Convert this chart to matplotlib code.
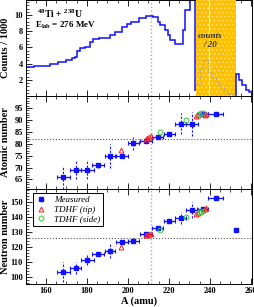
import matplotlib
matplotlib.use('Agg')
import matplotlib.pyplot as plt
from matplotlib.ticker import MultipleLocator
import numpy as np

plt.rcParams['font.family'] = ['Liberation Serif', 'DejaVu Serif']
plt.rcParams['font.weight'] = 'bold'
plt.rcParams['mathtext.fontset'] = 'custom'
plt.rcParams['mathtext.rm'] = 'Liberation Serif:bold'
plt.rcParams['mathtext.it'] = 'Liberation Serif:italic:bold'
plt.rcParams['mathtext.bf'] = 'Liberation Serif:bold'
plt.rcParams['hatch.linewidth'] = 0.6

# mass histogram (counts / 1000)
hist_edges = [150, 154, 162, 166, 170, 172.5, 174, 175, 176.6, 179, 181.5, 183, 186,
              191, 193.7, 197, 199.5, 201.5, 205.5, 209, 212, 214.6, 215.6, 218,
              219.5, 220.6, 222.7, 226.8, 227.8, 230.2, 232.7, 233.5]
hist_counts = [3.6, 3.7, 3.9, 4.25, 4.45, 4.65, 4.87, 5.5, 5.9, 6.1, 6.7, 7.0,
               7.2, 7.5, 7.9, 8.5, 8.9, 9.2, 9.6, 9.9, 9.7, 9.2, 8.8, 8.2, 7.55,
               6.9, 6.4, 8.2, 10.6, 12.5, 0.8]
tail_edges = [252.7, 254.4, 255.6, 257.5, 259, 263]
tail_counts = [2.74, 2.0, 1.4, 0.77, 0.5]
# scaled (counts / 20) part inside the shaded band
sc_edges = [233, 235, 236.5, 239, 241, 243, 245, 247, 249, 251, 252.7]
sc_counts = [1.5, 3.5, 4.4, 3.0, 2.2, 1.7, 1.0, 0.6, 0.3, 0.1]
band = (233.0, 252.7)

# measured fragments
A_meas = [168.5, 174.5, 180.2, 185.5, 191.2, 197.0, 202.6, 208.8, 214.5, 220.2,
          225.7, 231.2, 236.4, 242.7]
dA_meas = [3.0, 2.8, 3.0, 3.0, 2.5, 2.8, 2.8, 3.0, 2.8, 2.8, 2.8, 2.8, 2.8, 3.5]
Z_meas = [66, 69, 69, 71, 75, 75, 80.2, 81.2, 83, 84.2, 88.4, 88.4, 92.5, 92.5]
dZ_meas = [4.8, 3.8, 3.6, 1.0, 5.0, 0.8, 2.8, 0.8, 0.8, 0.8, 4.5, 5.0, 0.8, 0.8]
N_meas = [103, 105.7, 111.5, 115.4, 117.4, 123.1, 124.2, 128.5, 132.4, 137.4,
          139.4, 145, 145.6, 152.9]
dN_meas = [6.5, 4.0, 4.0, 1.0, 5.0, 1.0, 1.5, 1.0, 1.0, 1.0, 4.0, 5.5, 1.0, 1.0]
A_extra = [252.7]
N_extra = [131.7]

# TDHF
A_tip = [196.4, 208.8, 209.5, 210.3, 211.0, 233.2, 234.3, 237.5, 238.3]
Z_tip = [77.4, 82.0, 82.4, 82.8, 83.2, 91.5, 92.2, 92.0, 92.4]
N_tip = [119.8, 128.0, 128.3, 128.6, 128.9, 142.3, 143.0, 145.8, 146.3]
A_side = [215.6, 228.3, 234.8, 235.6, 236.5]
Z_side = [85.0, 90.0, 92.6, 92.9, 92.8]
N_side = [131.7, 140.0, 143.4, 143.8, 144.2]

A_line = 211
Z_line = 82
N_line = 126

blue = '#1010ff'
fig = plt.figure(figsize=(2.54, 3.07), dpi=100)
x0, w = 25.5 / 254, 226.5 / 254
ax1 = fig.add_axes([x0, 1 - 96 / 307, w, 95.5 / 307])
ax2 = fig.add_axes([x0, 1 - 189 / 307, w, 93 / 307])
ax3 = fig.add_axes([x0, 1 - 284 / 307, w, 95 / 307])

for ax in (ax1, ax2, ax3):
    ax.set_xlim(150, 260.5)
    ax.xaxis.set_major_locator(MultipleLocator(20))
    ax.xaxis.set_minor_locator(MultipleLocator(5))
    ax.tick_params(which='both', direction='in', top=True, labelsize=6, pad=2)
    ax.tick_params(which='major', length=4, width=0.6)
    ax.tick_params(which='minor', length=2, width=0.5)
    for s in ax.spines.values():
        s.set_linewidth(0.7)
    ax.axvline(A_line, color='#aaaaaa', ls=':', lw=1.0, zorder=1)
    ax.yaxis.set_label_coords(-0.068, 0.5)
for ax in (ax1, ax2):
    ax.tick_params(labelbottom=False)

# top panel
ax1.set_ylim(0, 11.8)
ax1.yaxis.set_major_locator(MultipleLocator(2))
ax1.yaxis.set_minor_locator(MultipleLocator(0.4))
ax1.set_yticks([2, 4, 6, 8, 10])
ax1.axvspan(band[0], band[1], facecolor='#ffc000', edgecolor='#ffe48a',
            hatch='....', lw=0, zorder=3)
ax1.axvline(239.6, color='#ffe9a0', lw=0.8, zorder=3.5)
ax1.stairs(hist_counts, hist_edges, baseline=None, color=blue, lw=1.1, zorder=2)
ax1.stairs(tail_counts, tail_edges, baseline=0, color=blue, lw=1.1, zorder=4)
ax1.stairs(sc_counts, sc_edges, baseline=None, color='#999999', lw=0.8,
           ls=':', zorder=4)
ax1.text(240, 7.2, 'counts', style='italic', fontsize=6.5, ha='center',
         va='baseline', color='#333333', zorder=5)
ax1.text(240, 6.1, '/ 20', style='italic', fontsize=6.5, ha='center',
         va='baseline', color='#333333', zorder=5)
ax1.text(0.05, 0.82, r'$^{48}$Ti + $^{238}$U', transform=ax1.transAxes,
         fontsize=7, va='baseline')
ax1.text(0.042, 0.71, r'E$_{\mathrm{lab}}$ = 276 MeV', transform=ax1.transAxes,
         fontsize=6.5, va='baseline')
ax1.set_ylabel('Counts / 1000', fontsize=7.5, fontweight='bold')


def draw_frag(ax, y, dy, ytip, yside):
    ax.errorbar(A_meas, y, xerr=dA_meas, fmt='s', color=blue, ms=3,
                lw=0.9, capsize=1.2, capthick=0.8, zorder=4)
    eb = ax.errorbar(A_meas, y, yerr=dy, fmt='none', ecolor=blue, lw=0.8,
                     zorder=3)
    eb[2][0].set_linestyle((0, (2, 1.5)))
    ax.plot(A_tip, ytip, '^', mfc='none', mec='#ff2020', ms=3.5, mew=0.7,
            zorder=5)
    ax.plot(A_side, yside, 'o', mfc='none', mec='#33cc33', ms=3.5, mew=0.7,
            zorder=5)


# middle panel
ax2.set_ylim(61, 100)
ax2.yaxis.set_major_locator(MultipleLocator(5))
ax2.yaxis.set_minor_locator(MultipleLocator(1))
ax2.set_yticks([65, 70, 75, 80, 85, 90, 95])
ax2.axhline(Z_line, color='#555555', ls=':', lw=0.8, zorder=1)
draw_frag(ax2, Z_meas, dZ_meas, Z_tip, Z_side)
ax2.set_ylabel('Atomic number', fontsize=7.5, fontweight='bold')

# bottom panel
ax3.set_ylim(95, 159)
ax3.yaxis.set_major_locator(MultipleLocator(10))
ax3.yaxis.set_minor_locator(MultipleLocator(2))
ax3.set_yticks([100, 110, 120, 130, 140, 150])
ax3.axhline(N_line, color='#555555', ls=':', lw=0.8, zorder=1)
draw_frag(ax3, N_meas, dN_meas, N_tip, N_side)
ax3.plot(A_extra, N_extra, 's', color=blue, ms=3, zorder=4)
ax3.set_ylabel('Neutron number', fontsize=7.5, fontweight='bold')
ax3.set_xlabel('A (amu)', fontsize=7.5, fontweight='bold', labelpad=1)

h1 = plt.Line2D([], [], marker='s', color=blue, ls='none', ms=3)
h2 = plt.Line2D([], [], marker='^', mfc='none', mec='#ff2020', ls='none', ms=3.5, mew=0.7)
h3 = plt.Line2D([], [], marker='o', mfc='none', mec='#33cc33', ls='none', ms=3.5, mew=0.7)
leg = ax3.legend([h1, h2, h3], ['Measured', 'TDHF (tip)', 'TDHF (side)'],
                 loc='upper left', bbox_to_anchor=(0.033, 0.958),
                 borderaxespad=0, fancybox=False, edgecolor='black',
                 framealpha=1, handlelength=1.2, handletextpad=0.8,
                 labelspacing=0.15, borderpad=0.3,
                 prop={'style': 'italic', 'size': 6.5, 'weight': 'normal'})
leg.get_frame().set_linewidth(0.7)

fig.savefig('out.png', dpi=100)
